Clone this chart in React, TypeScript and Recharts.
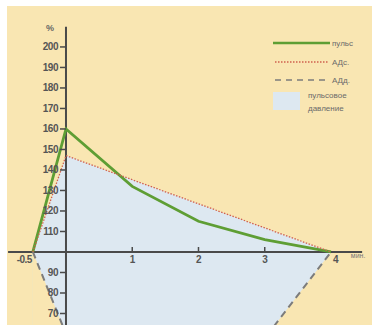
import React from 'react';
import { ComposedChart, Line, Area, XAxis, YAxis, ReferenceLine, ReferenceDot, Legend } from 'recharts';

const pulseX = [-0.5, 0, 1, 2, 3, 4];
const pulseY = [100, 160, 132, 115, 106, 100];
const sysX = [-0.5, 0, 4];
const sysY = [100, 147, 100];
const diaX = [-0.5, 0, 3.05, 4];
const diaY = [100, 60, 60, 100];
const yTicks = [200, 190, 180, 170, 160, 150, 140, 130, 120, 110, 90, 80, 70];
const xTicks = [-0.5, 1, 2, 3, 4];
const xTickLabels = ['-0.5', '1', '2', '3', '4'];
const legendLabels = ['пульс', 'АДс.', 'АДд.', 'пульсовое', 'давление'];
const yUnit = '%';
const xUnit = 'мин.';

const zip = (xs: number[], ys: number[]) => xs.map((x, i) => ({ x, v: ys[i] }));
const pulseData = zip(pulseX, pulseY);
const sysData = zip(sysX, sysY);
const diaData = zip(diaX, diaY);

const BEIGE = '#f9e6b2';
const BLUE = '#dde8f1';
const GREEN = '#5e9e34';
const RED = '#d0604e';
const GRAY = '#7c7c7c';
const AXIS = '#4a4a4a';
const LABEL = '#555555';
const FONT = '"Liberation Sans", Arial, sans-serif';

const LegendBox = () => (
  <svg width={100} height={85} style={{ display: 'block', overflow: 'visible' }}>
    <line x1={3} x2={60} y1={9} y2={9} stroke={GREEN} strokeWidth={2.5} />
    <text x={62} y={9} dy="0.35em" fontSize={8} fill="#6a6a6a" fontFamily={FONT}>{legendLabels[0]}</text>
    <line x1={5} x2={58} y1={28} y2={28} stroke={RED} strokeWidth={1.3} strokeDasharray="1.5 1.5" />
    <text x={62} y={28} dy="0.35em" fontSize={8} fill="#6a6a6a" fontFamily={FONT}>{legendLabels[1]}</text>
    <line x1={5} x2={58} y1={46} y2={46} stroke={GRAY} strokeWidth={1.5} strokeDasharray="6 5" />
    <text x={62} y={46} dy="0.35em" fontSize={8} fill="#6a6a6a" fontFamily={FONT}>{legendLabels[2]}</text>
    <rect x={3} y={58} width={27} height={18} fill={BLUE} />
    <text x={38} y={61} dy="0.35em" fontSize={8} fill="#6a6a6a" fontFamily={FONT}>{legendLabels[3]}</text>
    <text x={38} y={74} dy="0.35em" fontSize={8} fill="#6a6a6a" fontFamily={FONT}>{legendLabels[4]}</text>
  </svg>
);

export default function App() {
  return (
    <div style={{ position: 'absolute', left: 0, top: 0, width: 372, height: 325, background: '#ffffff', overflow: 'hidden' }}>
      <div style={{ position: 'absolute', left: 7, top: 6, right: 0, bottom: 0, background: BEIGE }} />
      <div style={{ position: 'absolute', left: 0, top: 0 }}>
        <ComposedChart width={372} height={325} margin={{ top: 0, right: 0, bottom: 0, left: 0 }}>
          <XAxis type="number" dataKey="x" domain={[-0.996, 4.619]} hide allowDataOverflow />
          <YAxis type="number" dataKey="v" domain={[64.39, 222.9]} hide allowDataOverflow />
          <Area data={sysData} dataKey="v" type="linear" fill={BLUE} fillOpacity={1} stroke="none" dot={false} activeDot={false} isAnimationActive={false} />
          <Area data={diaData} dataKey="v" type="linear" fill={BEIGE} fillOpacity={1} stroke="none" dot={false} activeDot={false} isAnimationActive={false} />
          <ReferenceLine segment={[{ x: -0.874, y: 100 }, { x: 4.47, y: 100 }]} stroke={AXIS} strokeWidth={2} ifOverflow="visible" />
          <ReferenceLine segment={[{ x: 0, y: 209.8 }, { x: 0, y: 64.39 }]} stroke={AXIS} strokeWidth={2} ifOverflow="visible" />
          {yTicks.map((t) => (
            <ReferenceDot
              key={'y' + t}
              x={0}
              y={t}
              ifOverflow="visible"
              shape={(p: any) => (
                <g>
                  <line x1={p.cx - 6} x2={p.cx} y1={p.cy} y2={p.cy} stroke={AXIS} strokeWidth={1.5} />
                  <text x={p.cx - 8} y={p.cy} dy="0.35em" textAnchor="end" fontSize={10} fontWeight="bold" fill={LABEL} fontFamily={FONT} letterSpacing={-0.5}>{t}</text>
                </g>
              )}
            />
          ))}
          <ReferenceDot
            x={0}
            y={209.5}
            ifOverflow="visible"
            shape={(p: any) => (
              <text x={p.cx - 16} y={p.cy} dy="0.35em" textAnchor="middle" fontSize={9} fontWeight="bold" fill="#666" fontFamily={FONT}>{yUnit}</text>
            )}
          />
          {xTicks.map((t, i) => (
            <ReferenceDot
              key={'x' + t}
              x={t}
              y={100}
              ifOverflow="visible"
              shape={(p: any) => (
                <g>
                  {t > 0 && t < 4 ? <line x1={p.cx} x2={p.cx} y1={p.cy - 5} y2={p.cy} stroke={AXIS} strokeWidth={1.5} /> : null}
                  <text
                    x={t < 0 ? p.cx - 1 : t === 4 ? p.cx + 2 : p.cx}
                    y={p.cy + 8}
                    dy="0.35em"
                    textAnchor={t < 0 ? 'end' : t === 4 ? 'start' : 'middle'}
                    fontSize={10}
                    fontWeight="bold"
                    fill={LABEL}
                    fontFamily={FONT}
                    letterSpacing={-0.5}
                  >
                    {xTickLabels[i]}
                  </text>
                </g>
              )}
            />
          ))}
          <ReferenceDot
            x={4.3}
            y={100}
            ifOverflow="visible"
            shape={(p: any) => (
              <text x={p.cx} y={p.cy + 4} dy="0.35em" fontSize={7} fill="#777" fontFamily={FONT}>{xUnit}</text>
            )}
          />
          <Line data={diaData} dataKey="v" type="linear" stroke={GRAY} strokeWidth={2} strokeDasharray="7 5" dot={false} activeDot={false} isAnimationActive={false} />
          <Line data={pulseData} dataKey="v" type="linear" stroke={GREEN} strokeWidth={2.8} dot={false} activeDot={false} isAnimationActive={false} />
          <Line data={sysData} dataKey="v" type="linear" stroke={RED} strokeWidth={1.3} strokeDasharray="1.5 1.5" dot={false} activeDot={false} isAnimationActive={false} />
          <Legend
            layout="horizontal"
            verticalAlign="middle"
            align="center"
            content={() => <LegendBox />}
            wrapperStyle={{ left: 270, top: 34, width: 100, height: 85 }}
          />
        </ComposedChart>
      </div>
    </div>
  );
}
